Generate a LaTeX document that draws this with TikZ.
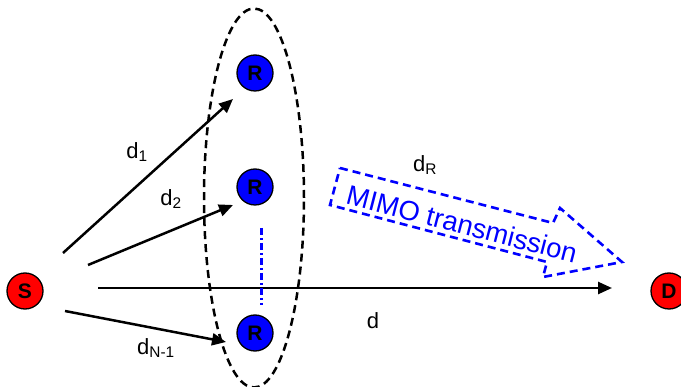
\documentclass[tikz,border=0pt]{standalone}
\usepackage{fontspec}
\setmainfont{Liberation Sans}
\usepackage{tikz}
\usetikzlibrary{arrows.meta, positioning, shapes.geometric}
\definecolor{myred}{HTML}{FF0000}
\definecolor{myblue}{HTML}{0000FF}
\tikzset{
	defaultnode/.style={
			circle,
			draw=black,
			line width=1.3pt,
			minimum size=36pt,
			inner sep=0pt,
			font=\fontsize{21}{24}\selectfont\bfseries
		},
	endnode/.style={
			defaultnode,
			fill=myred
		},
	relaynode/.style={
			defaultnode,
			fill=myblue
		},
	linkarrow/.style={
			line width=2.5pt,
			-{Triangle[length=14pt,width=12pt]}
		},
	distlabel/.style={
			inner sep=0pt,
			font=\fontsize{22}{26}\selectfont
		}
}

\begin{document}
\begin{tikzpicture}[x=1pt,y=-1pt]
	\useasboundingbox (0,0) rectangle (681,387);

	% relay cluster
	\node[ellipse, draw, line width=2.5pt, dash pattern=on 8pt off 5pt,
		minimum width=100pt, minimum height=379pt, inner sep=0pt] (cluster) at (254,198) {};

	\node[endnode] (S) at (25,291) {S};
	\node[endnode] (D) at (669,291) {D};
	\node[relaynode] (R1) at (255,73) {R};
	\node[relaynode] (R2) at (255,187) {R};
	\node[relaynode] (R3) at (255,333) {R};

	\coordinate (a1) at (63,253);
	\coordinate (b1) at (233,99);
	\coordinate (a2) at (88,265);
	\coordinate (b2) at (233,205);
	\coordinate (a3) at (65,311);
	\coordinate (b3) at (226,342);
	\coordinate (a4) at (98,288);
	\coordinate (b4) at (612,288);

	\draw[linkarrow] (a1) -- (b1);
	\draw[linkarrow] (a2) -- (b2);
	\draw[linkarrow] (a3) -- (b3);
	\draw[linkarrow] (a4) -- (b4);

	% more relays
	\coordinate (dots1) at (261,228);
	\coordinate (dots2) at (261,305);
	\draw[myblue, line width=3pt, dash pattern=on 7pt off 3pt on 2pt off 3pt] (dots1) -- (dots2);

	\node[distlabel] (l1) at (137,152) {d\textsubscript{1}};
	\node[distlabel] (l2) at (171,199) {d\textsubscript{2}};
	\node[distlabel] (l3) at (156,348) {d\textsubscript{N-1}};
	\node[distlabel] (l4) at (373,321) {d};
	\node[distlabel] (l5) at (425,165) {d\textsubscript{R}};

	% MIMO block arrow
	\coordinate (m1) at (340,168);
	\coordinate (m2) at (553,223);
	\coordinate (m3) at (560,208);
	\coordinate (m4) at (622,262);
	\coordinate (m5) at (543,277);
	\coordinate (m6) at (547,262);
	\coordinate (m7) at (330,205);
	\draw[myblue, line width=2.6pt, dash pattern=on 8pt off 5pt, line join=miter]
		(m1) -- (m2) -- (m3) -- (m4) -- (m5) -- (m6) -- (m7) -- cycle;
	\node[myblue, rotate=-14.5, inner sep=0pt, font=\fontsize{27.5}{31}\selectfont] (mimo) at (462,224) {MIMO transmission};

\end{tikzpicture}
\end{document}
